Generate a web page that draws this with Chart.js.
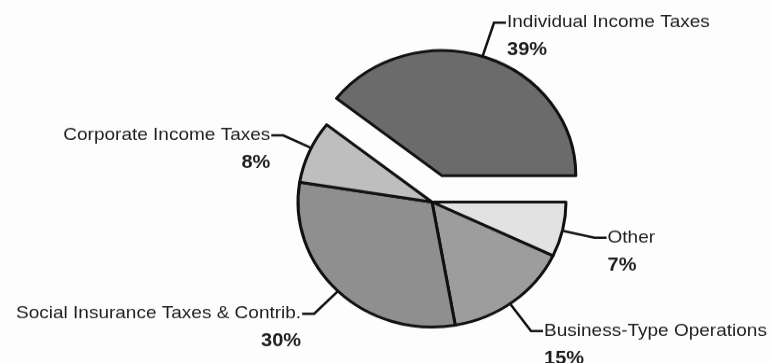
<!DOCTYPE html>
<html>
<head>
<meta charset="utf-8">
<title>Receipts by source</title>
<script src="https://cdn.jsdelivr.net/npm/chart.js@4.4.1/dist/chart.umd.min.js"></script>
<style>
  html, body { margin: 0; padding: 0; background: #fdfdfd; overflow: hidden; }
  #chart { display: block; }
</style>
</head>
<body>
<!-- drawn a bit taller and squeezed by css, the original pie is slightly oval -->
<canvas id="chart" width="772" height="389" style="width:772px;height:363px"></canvas>
<script>
const categories = ['Other', 'Business-Type Operations', 'Social Insurance Taxes & Contrib.', 'Corporate Income Taxes', 'Individual Income Taxes'];
const shares = [7, 15, 30, 8, 39];
const pctLabels = ['7%', '15%', '30%', '8%', '39%'];
const fills = ['#e2e2e2', '#9d9d9d', '#8f8f8f', '#bebebe', '#6b6b6b'];
const explode = [0, 0, 0, 0, 30]; // px the slice is pulled out

// leader lines: where on the slice rim they start, how far out they run, text side
const leaders = [
  { frac: 0.52, len: 32, side: 1 },
  { frac: 0.53, len: 35, side: 1 },
  { frac: 0.50, len: 33, side: -1 },
  { frac: 0.57, len: 30, side: -1 },
  { frac: 0.49, len: 37, side: 1 }
];

const FONT = '"Liberation Sans", Arial, Helvetica, sans-serif';

function sliceShift(arc, i) {
  const mid = (arc.startAngle + arc.endAngle) / 2;
  return { dx: Math.cos(mid) * explode[i], dy: Math.sin(mid) * explode[i] };
}

// chart.js offset also grows the radius of wide slices, so pull it out by hand
const explodeSlices = {
  id: 'explodeSlices',
  beforeDatasetDraw(chart, args) {
    const ctx = chart.ctx;
    args.meta.data.forEach((arc, i) => {
      const s = sliceShift(arc, i);
      ctx.save();
      ctx.translate(s.dx, s.dy);
      arc.draw(ctx, chart.chartArea);
      ctx.restore();
    });
    return false;
  }
};

const leaderLabels = {
  id: 'leaderLabels',
  afterDatasetsDraw(chart) {
    const ctx = chart.ctx;
    const meta = chart.getDatasetMeta(0);
    meta.data.forEach((arc, i) => {
      const { x, y, startAngle, endAngle, outerRadius } = arc;
      const s = sliceShift(arc, i);
      const cx = x + s.dx, cy = y + s.dy;

      const L = leaders[i];
      const a = startAngle + (endAngle - startAngle) * L.frac;
      const r = outerRadius + 1;
      const x0 = cx + Math.cos(a) * r, y0 = cy + Math.sin(a) * r;
      const x1 = cx + Math.cos(a) * (r + L.len), y1 = cy + Math.sin(a) * (r + L.len);
      const x2 = x1 + L.side * 12;

      ctx.save();
      ctx.strokeStyle = '#111';
      ctx.lineWidth = 2.5;
      ctx.lineJoin = 'miter';
      ctx.beginPath();
      ctx.moveTo(x0, y0);
      ctx.lineTo(x1, y1);
      ctx.lineTo(x2, y1);
      ctx.stroke();

      ctx.fillStyle = '#1e1e1e';
      ctx.textAlign = L.side > 0 ? 'left' : 'right';
      ctx.textBaseline = 'alphabetic';
      const tx = x2 + L.side * 1;
      ctx.font = '19px ' + FONT;
      ctx.fillText(categories[i], tx, y1 + 5);
      ctx.font = 'bold 20px ' + FONT;
      ctx.fillText(pctLabels[i], tx, y1 + 35);
      ctx.restore();
    });
  }
};

new Chart(document.getElementById('chart'), {
  type: 'pie',
  data: {
    labels: categories,
    datasets: [{
      data: shares,
      backgroundColor: fills,
      borderColor: '#111',
      borderWidth: 3,
      borderJoinStyle: 'round',
      hoverOffset: 0
    }]
  },
  options: {
    responsive: false,
    animation: false,
    events: [],
    devicePixelRatio: 1,
    rotation: 90,
    radius: 134,
    layout: { padding: { left: 92, top: 44 } },
    plugins: {
      legend: { display: false },
      tooltip: { enabled: false }
    }
  },
  plugins: [explodeSlices, leaderLabels]
});
</script>
</body>
</html>
